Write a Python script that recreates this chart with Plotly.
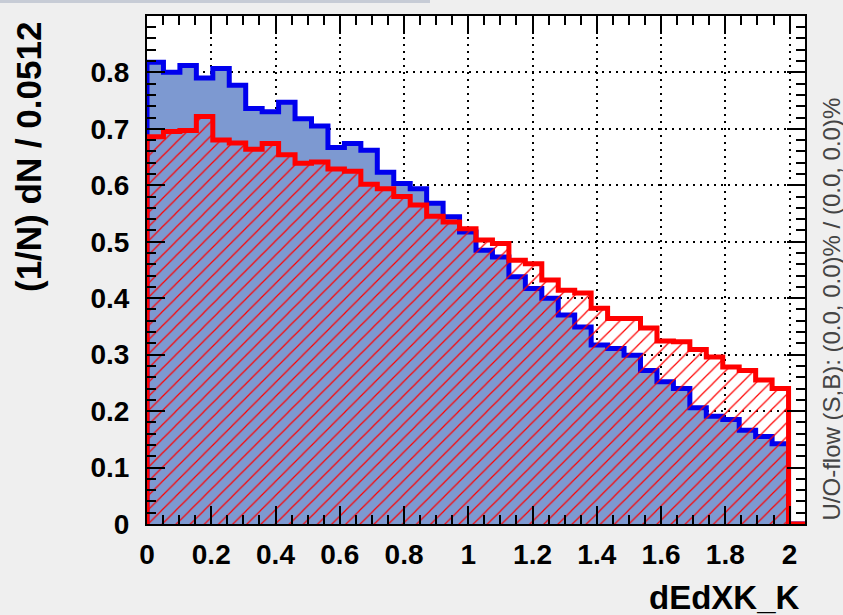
import numpy as np
import plotly.graph_objects as go

# Binning of the dEdXK_K variable
bin_width = 0.0512
n_bins = 40
x_min = 0.0

# Normalised entries per bin: signal (S) and background (B)
signal = [0.818, 0.800, 0.812, 0.790, 0.807, 0.777, 0.736, 0.730, 0.747, 0.718,
          0.705, 0.667, 0.674, 0.662, 0.623, 0.603, 0.594, 0.568, 0.544, 0.517,
          0.485, 0.473, 0.438, 0.417, 0.400, 0.370, 0.349, 0.317, 0.311, 0.299,
          0.272, 0.252, 0.240, 0.206, 0.191, 0.185, 0.166, 0.155, 0.142, 0.0]
background = [0.686, 0.695, 0.697, 0.722, 0.680, 0.675, 0.664, 0.674, 0.654, 0.639,
              0.641, 0.629, 0.625, 0.602, 0.594, 0.580, 0.565, 0.545, 0.535, 0.523,
              0.503, 0.497, 0.467, 0.461, 0.432, 0.414, 0.409, 0.382, 0.364, 0.364,
              0.347, 0.324, 0.323, 0.309, 0.296, 0.278, 0.272, 0.255, 0.240, 0.0]

x_ticks = [0, 0.2, 0.4, 0.6, 0.8, 1, 1.2, 1.4, 1.6, 1.8, 2]
x_tick_labels = ["0", "0.2", "0.4", "0.6", "0.8", "1", "1.2", "1.4", "1.6", "1.8", "2"]
y_ticks = [0, 0.1, 0.2, 0.3, 0.4, 0.5, 0.6, 0.7, 0.8]
y_tick_labels = ["0", "0.1", "0.2", "0.3", "0.4", "0.5", "0.6", "0.7", "0.8"]
x_minor_step = 0.05
y_minor_step = 0.02

x_title = "dEdXK_K"
y_title = "(1/N) dN / 0.0512"
flow_text = "U/O-flow (S,B): (0.0, 0.0)% / (0.0, 0.0)%"

edges = x_min + bin_width * np.arange(n_bins + 1)
x_max = edges[-1]
y_max = 1.1 * max(max(signal), max(background))


def step_path(values):
    """Histogram outline: rise at the first edge, flat tops, drop at the last edge."""
    xs = [edges[0]] + list(edges[:-1]) + [edges[-1], edges[-1]]
    ys = [0.0] + list(values) + [values[-1], 0.0]
    return xs, ys


FONT = "Liberation Sans, Arial, Helvetica, sans-serif"

L, R, T, B = 147, 38, 16, 91
W, H = 843, 615
pw, ph = W - L - R, H - T - B


def px_x(px):
    return (px - L) / pw


def px_y(py):
    return (H - B - py) / ph


fig = go.Figure()

sx, sy = step_path(signal)
fig.add_trace(go.Scatter(
    x=sx, y=sy, mode="lines", line_shape="hv",
    line=dict(color="#0000ee", width=5),
    fill="tozeroy", fillcolor="#7d99d1",
    hoverinfo="skip", showlegend=False,
))

bx, by = step_path(background)
fig.add_trace(go.Scatter(
    x=bx, y=by, mode="lines", line_shape="hv",
    line=dict(color="#ff0000", width=5),
    fill="tozeroy", fillcolor="rgba(0,0,0,0)",
    fillpattern=dict(shape="/", fgcolor="#ff0000", bgcolor="rgba(0,0,0,0)",
                     size=10, solidity=0.12, fillmode="replace"),
    hoverinfo="skip", showlegend=False,
))

# ROOT-style frame: inside ticks on all four sides, dotted grid at the major ticks
axis_common = dict(
    showline=True, linecolor="black", linewidth=2, mirror="allticks",
    ticks="inside", ticklen=18, tickwidth=2, tickcolor="black",
    layer="above traces",
    showgrid=True, gridcolor="black", gridwidth=1.5, griddash="2px,5px",
    zeroline=False,
    tickfont=dict(family=FONT, size=28, color="black", weight="bold"),
)

fig.update_xaxes(
    range=[x_min, x_max], tickmode="array", tickvals=x_ticks, ticktext=x_tick_labels,
    ticklabelstandoff=4,
    minor=dict(dtick=x_minor_step, tick0=x_min, ticks="inside", ticklen=9,
               tickwidth=2, tickcolor="black", showgrid=False),
    **axis_common,
)
fig.update_yaxes(
    range=[0, y_max], tickmode="array", tickvals=y_ticks, ticktext=y_tick_labels,
    ticklabelstandoff=10,
    minor=dict(dtick=y_minor_step, tick0=0, ticks="inside", ticklen=9,
               tickwidth=2, tickcolor="black", showgrid=False),
    **axis_common,
)

fig.add_annotation(
    text=y_title, textangle=-90, xref="paper", yref="paper",
    x=px_x(28), y=px_y(20), xanchor="center", yanchor="top", showarrow=False,
    font=dict(family=FONT, size=35, color="black", weight="bold"),
)
fig.add_annotation(
    text=x_title, xref="paper", yref="paper",
    x=px_x(802), y=px_y(597), xanchor="right", yanchor="middle", showarrow=False,
    font=dict(family=FONT, size=33, color="black", weight="bold"),
)
fig.add_annotation(
    text=flow_text, textangle=-90, xref="paper", yref="paper",
    x=px_x(831), y=px_y(523), xanchor="center", yanchor="bottom", showarrow=False,
    font=dict(family=FONT, size=24, color="#444444"),
)

# thin edge of the title box along the top of the canvas
fig.add_shape(type="rect", xref="paper", yref="paper",
              x0=px_x(0), x1=px_x(430), y0=px_y(3), y1=px_y(0),
              line=dict(width=0), fillcolor="#c7ccd6", layer="above")

fig.update_layout(
    width=W, height=H,
    margin=dict(l=L, r=R, t=T, b=B),
    paper_bgcolor="#efefef", plot_bgcolor="white",
    showlegend=False,
)

fig.write_html("out.html")
